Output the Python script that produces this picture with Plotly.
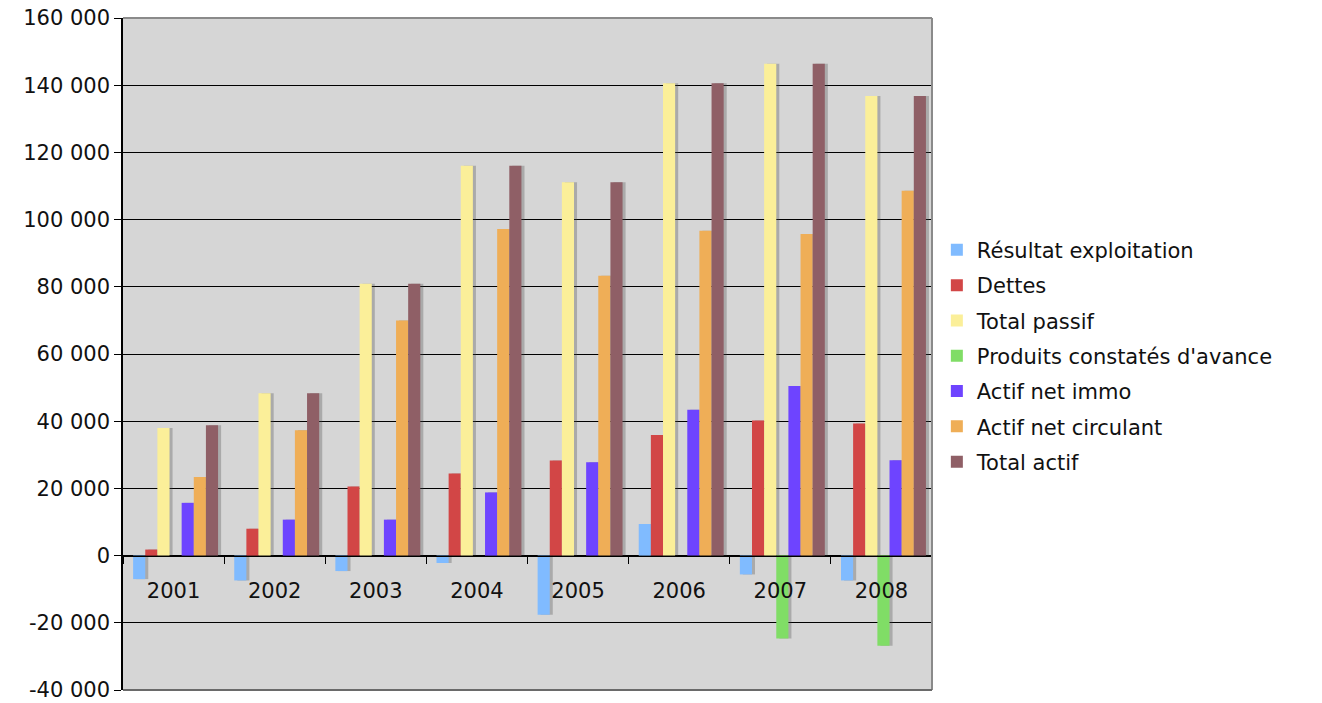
import plotly.graph_objects as go

years = ["2001", "2002", "2003", "2004", "2005", "2006", "2007", "2008"]

resultat_exploitation = [-7000, -7400, -4600, -2200, -17600, 9400, -5600, -7400]
dettes = [1800, 8000, 20600, 24400, 28300, 35900, 40200, 39300]
total_passif = [38000, 48300, 80900, 116000, 111100, 140600, 146400, 136800]
produits_constates = [0, 0, 0, 0, 0, 0, -24700, -26800]
actif_net_immo = [15700, 10700, 10700, 18800, 27800, 43400, 50500, 28400]
actif_net_circulant = [23400, 37300, 70000, 97200, 83300, 96700, 95700, 108600]
total_actif = [38800, 48300, 80900, 116000, 111100, 140600, 146400, 136800]

series_names = ["Résultat exploitation", "Dettes", "Total passif",
                "Produits constatés d'avance", "Actif net immo",
                "Actif net circulant", "Total actif"]
series_values = [resultat_exploitation, dettes, total_passif, produits_constates,
                 actif_net_immo, actif_net_circulant, total_actif]
series_colors = ["#80BBFF", "#D24646", "#FBEF99", "#80DD66", "#6E44FF", "#EFAE57", "#8F5F66"]

y_tickvals = [-40000, -20000, 0, 20000, 40000, 60000, 80000, 100000, 120000, 140000, 160000]
y_ticktext = ["-40 000", "-20 000", "0", "20 000", "40 000", "60 000", "80 000",
              "100 000", "120 000", "140 000", "160 000"]

FONT = "DejaVu Sans"
FS = 21
bar_w = 0.12
start = -0.40

fig = go.Figure()

# soft shadows (base axis, drawn beneath)
for i, (name, vals) in enumerate(zip(series_names, series_values)):
    fig.add_trace(go.Bar(
        x=years, y=vals, xaxis="x", yaxis="y",
        offset=start + i * bar_w + 0.03, width=bar_w,
        marker=dict(color="rgba(70,70,70,0.30)", line=dict(width=0)),
        showlegend=False, hoverinfo="skip",
    ))

# main bars (overlay axis, drawn on top)
for i, (name, vals, col) in enumerate(zip(series_names, series_values, series_colors)):
    fig.add_trace(go.Bar(
        x=years, y=vals, xaxis="x2", yaxis="y", name=name,
        offset=start + i * bar_w, width=bar_w,
        marker=dict(color=col, line=dict(width=0)),
        legendgroup=name,
    ))

fig.update_layout(
    width=1322, height=703,
    margin=dict(l=123, r=390, t=18, b=13, autoexpand=False),
    paper_bgcolor="white",
    plot_bgcolor="#D6D6D6",
    barmode="overlay",
    font=dict(family=FONT, size=FS, color="#111111"),
    showlegend=True,
    legend=dict(
        x=1.006, xanchor="left", y=0.685, yanchor="top",
        font=dict(family=FONT, size=FS, color="#111111"),
        itemwidth=30, tracegroupgap=5, traceorder="grouped",
        bgcolor="rgba(0,0,0,0)",
    ),
    xaxis=dict(
        type="category", categoryorder="array", categoryarray=years,
        range=[-0.5, 7.5], showticklabels=False, showgrid=False,
        showline=False, ticks="", zeroline=False, automargin=False,
    ),
    xaxis2=dict(
        type="category", categoryorder="array", categoryarray=years,
        overlaying="x", anchor="free", position=0.2, side="bottom",
        range=[-0.5, 7.5], showgrid=False, showline=True, linecolor="black",
        linewidth=1, ticks="outside", tickson="boundaries", ticklen=7,
        tickcolor="black", tickfont=dict(family=FONT, size=FS, color="#111111"),
        ticklabelstandoff=16, automargin=False,
    ),
    yaxis=dict(
        range=[-40000, 160000], tickvals=y_tickvals, ticktext=y_ticktext,
        showgrid=True, gridcolor="black", gridwidth=1,
        zeroline=True, zerolinecolor="black", zerolinewidth=1,
        showline=True, linecolor="black", linewidth=1.5,
        ticks="outside", ticklen=7, tickcolor="black",
        tickfont=dict(family=FONT, size=FS, color="#111111"),
        ticklabeloverflow="allow", automargin=False,
    ),
    shapes=[
        dict(type="line", xref="paper", yref="paper", x0=0, x1=1, y0=1, y1=1,
             line=dict(color="#8A8A8A", width=2)),
        dict(type="line", xref="paper", yref="paper", x0=1, x1=1, y0=0, y1=1,
             line=dict(color="#8A8A8A", width=2)),
        dict(type="line", xref="paper", yref="paper", x0=0, x1=1, y0=0, y1=0,
             line=dict(color="#6A6A6A", width=2)),
    ],
)

fig.write_html("out.html")
